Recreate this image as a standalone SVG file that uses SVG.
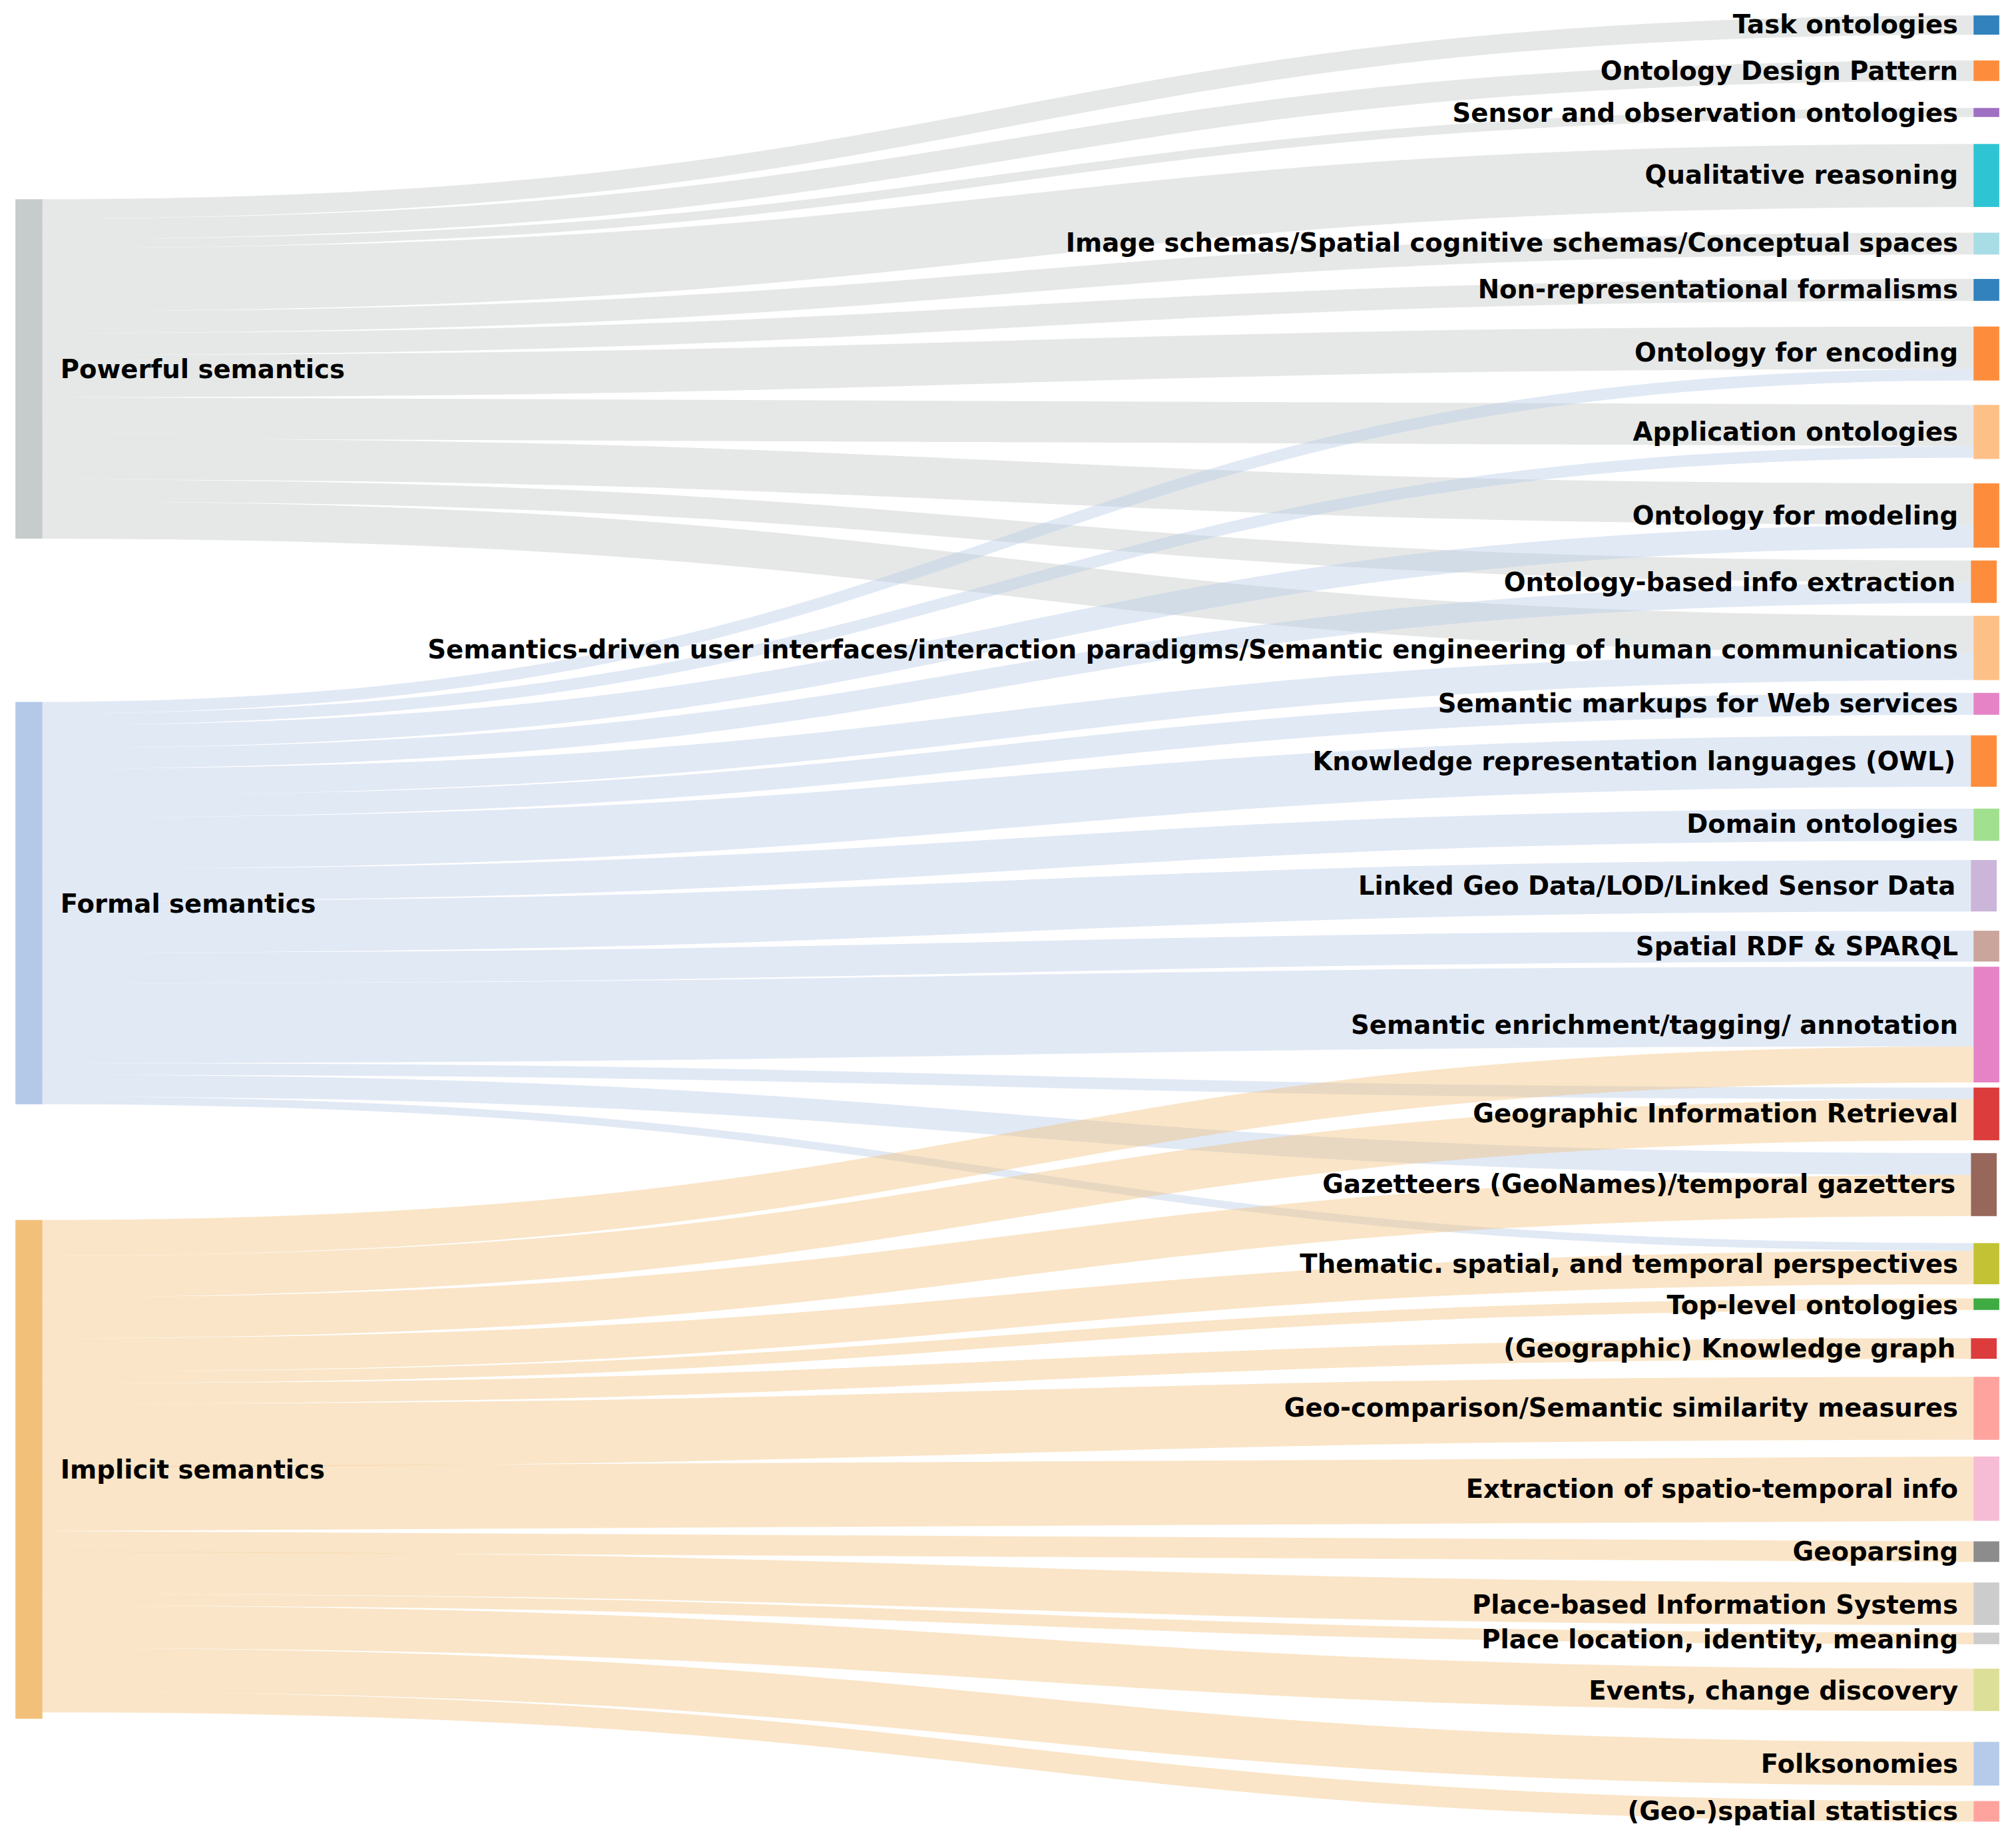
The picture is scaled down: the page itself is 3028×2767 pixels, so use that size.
<svg xmlns="http://www.w3.org/2000/svg" width="3028" height="2767" viewBox="0 0 3028 2767">
<style>
.l{fill:none;stroke-opacity:0.42}
.g{stroke:#c3c8c6}.b{stroke:#b7cae7}.o{stroke:#f3c27c}
text{font-family:"DejaVu Sans",Verdana,sans-serif;font-weight:bold;font-size:20px;fill:#000}
.r{text-anchor:end}
</style>
<rect width="3028" height="2767" fill="#fff"/>
<g transform="scale(1.9311)">
<g id="links">
<path class="l g" stroke-width="15" d="M33,162.5C784,162.5 784,19.5 1535,19.5"/>
<path class="l g" stroke-width="16" d="M33,178C784,178 784,55 1535,55"/>
<path class="l g" stroke-width="7" d="M33,189.5C784,189.5 784,87.5 1535,87.5"/>
<path class="l g" stroke-width="49" d="M33,217.5C784,217.5 784,136.5 1535,136.5"/>
<path class="l g" stroke-width="17" d="M33,250.5C784,250.5 784,189.5 1535,189.5"/>
<path class="l g" stroke-width="17" d="M33,267.5C784,267.5 784,225.5 1535,225.5"/>
<path class="l g" stroke-width="33" d="M33,292.5C784,292.5 784,270.5 1535,270.5"/>
<path class="l g" stroke-width="32" d="M33,325C784,325 784,331 1535,331"/>
<path class="l g" stroke-width="32" d="M33,357C784,357 784,392 1535,392"/>
<path class="l g" stroke-width="17" d="M33,381.5C784,381.5 784,444.5 1535,444.5"/>
<path class="l g" stroke-width="29" d="M33,404.5C784,404.5 784,493.5 1535,493.5"/>
<path class="l b" stroke-width="9" d="M33,550.5C784,550.5 784,291.5 1535,291.5"/>
<path class="l b" stroke-width="9" d="M33,559.5C784,559.5 784,351.5 1535,351.5"/>
<path class="l b" stroke-width="18" d="M33,573C784,573 784,417 1535,417"/>
<path class="l b" stroke-width="16" d="M33,590C784,590 784,461 1535,461"/>
<path class="l b" stroke-width="21" d="M33,608.5C784,608.5 784,518.5 1535,518.5"/>
<path class="l b" stroke-width="17" d="M33,627.5C784,627.5 784,547.5 1535,547.5"/>
<path class="l b" stroke-width="40" d="M33,656C784,656 784,592 1535,592"/>
<path class="l b" stroke-width="25" d="M33,688.5C784,688.5 784,641.5 1535,641.5"/>
<path class="l b" stroke-width="40" d="M33,721C784,721 784,689 1535,689"/>
<path class="l b" stroke-width="24" d="M33,753C784,753 784,736 1535,736"/>
<path class="l b" stroke-width="62" d="M33,796C784,796 784,783 1535,783"/>
<path class="l b" stroke-width="9" d="M33,831.5C784,831.5 784,850.5 1535,850.5"/>
<path class="l b" stroke-width="17" d="M33,844.5C784,844.5 784,905.5 1535,905.5"/>
<path class="l b" stroke-width="6" d="M33,856C784,856 784,970 1535,970"/>
<path class="l o" stroke-width="28" d="M33,963C784,963 784,828 1535,828"/>
<path class="l o" stroke-width="32" d="M33,993C784,993 784,871 1535,871"/>
<path class="l o" stroke-width="32" d="M33,1025C784,1025 784,930 1535,930"/>
<path class="l o" stroke-width="26" d="M33,1054C784,1054 784,986 1535,986"/>
<path class="l o" stroke-width="9" d="M33,1071.5C784,1071.5 784,1014.5 1535,1014.5"/>
<path class="l o" stroke-width="16" d="M33,1084C784,1084 784,1049 1535,1049"/>
<path class="l o" stroke-width="49" d="M33,1116.5C784,1116.5 784,1095.5 1535,1095.5"/>
<path class="l o" stroke-width="50" d="M33,1166C784,1166 784,1158 1535,1158"/>
<path class="l o" stroke-width="16" d="M33,1199C784,1199 784,1207 1535,1207"/>
<path class="l o" stroke-width="33" d="M33,1223.5C784,1223.5 784,1247.5 1535,1247.5"/>
<path class="l o" stroke-width="9" d="M33,1244.5C784,1244.5 784,1274.5 1535,1274.5"/>
<path class="l o" stroke-width="33" d="M33,1265.5C784,1265.5 784,1314.5 1535,1314.5"/>
<path class="l o" stroke-width="34" d="M33,1299C784,1299 784,1372 1535,1372"/>
<path class="l o" stroke-width="16" d="M33,1324C784,1324 784,1409 1535,1409"/>
</g>
<g id="powerful"><rect x="12" y="155" width="21" height="264" fill="#c6cbcb"/><text x="47" y="294">Powerful semantics</text></g>
<g id="formal"><rect x="12" y="546" width="21" height="313" fill="#b4c9e8"/><text x="47" y="710">Formal semantics</text></g>
<g id="implicit"><rect x="12" y="949" width="21" height="388" fill="#f3c07a"/><text x="47" y="1150">Implicit semantics</text></g>
<g id="n1"><rect x="1535" y="12" width="20" height="15" fill="#3182bd"/><text class="r" x="1523" y="26">Task ontologies</text></g>
<g id="n2"><rect x="1535" y="47" width="20" height="16" fill="#fd8d3c"/><text class="r" x="1523" y="62">Ontology Design Pattern</text></g>
<g id="n3"><rect x="1535" y="84" width="20" height="7" fill="#9e6fc2"/><text class="r" x="1523" y="95">Sensor and observation ontologies</text></g>
<g id="n4"><rect x="1535" y="112" width="20" height="49" fill="#2ec4d3"/><text class="r" x="1523" y="143">Qualitative reasoning</text></g>
<g id="n5"><rect x="1535" y="181" width="20" height="17" fill="#a8dde6"/><text class="r" x="1523" y="196">Image schemas/Spatial cognitive schemas/Conceptual spaces</text></g>
<g id="n6"><rect x="1535" y="217" width="20" height="17" fill="#3182bd"/><text class="r" x="1523" y="232">Non-representational formalisms</text></g>
<g id="n7"><rect x="1535" y="254" width="20" height="42" fill="#fd8d3c"/><text class="r" x="1523" y="281">Ontology for encoding</text></g>
<g id="n8"><rect x="1535" y="315" width="20" height="42" fill="#fdc086"/><text class="r" x="1523" y="343">Application ontologies</text></g>
<g id="n9"><rect x="1535" y="376" width="20" height="50" fill="#fd8d3c"/><text class="r" x="1523" y="408">Ontology for modeling</text></g>
<g id="n10"><rect x="1533" y="436" width="20" height="33" fill="#fd8d3c"/><text class="r" x="1521" y="460">Ontology-based info extraction</text></g>
<g id="n11"><rect x="1535" y="479" width="20" height="50" fill="#fdc086"/><text class="r" x="1523" y="512">Semantics-driven user interfaces/interaction paradigms/Semantic engineering of human communications</text></g>
<g id="n12"><rect x="1535" y="539" width="20" height="17" fill="#e683c6"/><text class="r" x="1523" y="554">Semantic markups for Web services</text></g>
<g id="n13"><rect x="1533" y="572" width="20" height="40" fill="#fd8d3c"/><text class="r" x="1521" y="599">Knowledge representation languages (OWL)</text></g>
<g id="n14"><rect x="1535" y="629" width="20" height="25" fill="#a1e08f"/><text class="r" x="1523" y="648">Domain ontologies</text></g>
<g id="n15"><rect x="1533" y="669" width="20" height="40" fill="#cbb5d8"/><text class="r" x="1521" y="696">Linked Geo Data/LOD/Linked Sensor Data</text></g>
<g id="n16"><rect x="1535" y="724" width="20" height="24" fill="#c9a59c"/><text class="r" x="1523" y="743">Spatial RDF &amp; SPARQL</text></g>
<g id="n17"><rect x="1535" y="752" width="20" height="90" fill="#e683c6"/><text class="r" x="1523" y="804">Semantic enrichment/tagging/ annotation</text></g>
<g id="n18"><rect x="1535" y="846" width="20" height="41" fill="#dc3c3c"/><text class="r" x="1523" y="873">Geographic Information Retrieval</text></g>
<g id="n19"><rect x="1533" y="897" width="20" height="49" fill="#97675c"/><text class="r" x="1521" y="928">Gazetteers (GeoNames)/temporal gazetters</text></g>
<g id="n20"><rect x="1535" y="967" width="20" height="32" fill="#c2c234"/><text class="r" x="1523" y="990">Thematic. spatial, and temporal perspectives</text></g>
<g id="n21"><rect x="1535" y="1010" width="20" height="9" fill="#3fab43"/><text class="r" x="1523" y="1022">Top-level ontologies</text></g>
<g id="n22"><rect x="1533" y="1041" width="20" height="16" fill="#dc3c3c"/><text class="r" x="1521" y="1056">(Geographic) Knowledge graph</text></g>
<g id="n23"><rect x="1535" y="1071" width="20" height="49" fill="#ffa39f"/><text class="r" x="1523" y="1102">Geo-comparison/Semantic similarity measures</text></g>
<g id="n24"><rect x="1535" y="1133" width="20" height="50" fill="#f6bbd5"/><text class="r" x="1523" y="1165">Extraction of spatio-temporal info</text></g>
<g id="n25"><rect x="1535" y="1199" width="20" height="16" fill="#8c8c8c"/><text class="r" x="1523" y="1214">Geoparsing</text></g>
<g id="n26"><rect x="1535" y="1231" width="20" height="33" fill="#cccccc"/><text class="r" x="1523" y="1255">Place-based Information Systems</text></g>
<g id="n27"><rect x="1535" y="1270" width="20" height="9" fill="#cccccc"/><text class="r" x="1523" y="1282">Place location, identity, meaning</text></g>
<g id="n28"><rect x="1535" y="1298" width="20" height="33" fill="#dcdf98"/><text class="r" x="1523" y="1322">Events, change discovery</text></g>
<g id="n29"><rect x="1535" y="1355" width="20" height="34" fill="#b5cbe9"/><text class="r" x="1523" y="1379">Folksonomies</text></g>
<g id="n30"><rect x="1535" y="1401" width="20" height="16" fill="#ffa39f"/><text class="r" x="1523" y="1416">(Geo-)spatial statistics</text></g>
</g>
</svg>
